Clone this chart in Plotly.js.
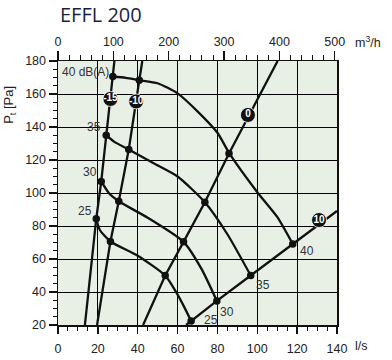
<!DOCTYPE html>
<html>
<head>
<meta charset="utf-8">
<script src="https://cdn.plot.ly/plotly-3.0.1.min.js"></script>
<style>html,body{margin:0;padding:0;background:#fff;}#chart{width:392px;height:360px;}</style>
</head>
<body>
<div id="chart"></div>
<script>
// Sound level curves (l/s, Pa)
const c25x = [19.2, 21, 26.3, 40, 53.8, 59, 63.3, 66.8];
const c25y = [84.4, 77.6, 70.6, 62, 50, 40.5, 31, 22.4];
const c30x = [21.7, 25.5, 30.5, 45, 63, 72, 79.7];
const c30y = [107, 100, 95, 85, 70.4, 54, 34.6];
const c35x = [24.2, 28.3, 35.5, 48, 60, 73.7, 85, 96.7];
const c35y = [135, 131, 126.4, 118, 110, 94.4, 75, 50];
const c40x = [27.5, 34, 40.8, 50, 60, 70, 80, 86, 100, 110, 117.8];
const c40y = [170.6, 169.8, 168.4, 166.5, 160.4, 149.5, 136.5, 124, 100.5, 85.5, 69.1];
// System / damper lines
const sM15x = [13.5, 19.2, 21.7, 24.2, 27.5, 28.3];
const sM15y = [20, 84.4, 107, 135, 170.6, 180];
const sM10x = [19.6, 26.3, 30.5, 35.5, 40.8, 42.3];
const sM10y = [20, 70.6, 95, 126.4, 168.4, 180];
const s0x = [42.7, 53.8, 63, 73.7, 85.8, 110.2];
const s0y = [20, 50, 70.4, 94.4, 124, 180];
const s10x = [64.3, 66.8, 79.7, 96.7, 117.8, 140];
const s10y = [20, 22.4, 34.6, 50, 69.1, 89.1];
// Intersection dots
const dotX = [19.2, 26.3, 53.8, 66.8, 21.7, 30.5, 63, 79.7, 24.2, 35.5, 73.7, 96.7, 27.5, 40.8, 85.8, 117.8];
const dotY = [84.4, 70.6, 50, 22.4, 107, 95, 70.4, 34.6, 135, 126.4, 94.4, 50, 170.6, 168.4, 124, 69.1];
// Line labels
const sysLabels = ['-15', '-10', '0', '10'];
const sysLabX = [26.3, 39.2, 95.3, 131];
const sysLabY = [157, 155.5, 147.3, 83.6];
// dB labels
const dbLabels = ['40 dB(A)', '35', '30', '25', '40', '35', '30', '25'];
const dbLabX = [0.8, 18, 16, 13.5, 124.8, 103, 85, 76.8];
const dbLabY = [173.3, 140.2, 112.7, 89.3, 65, 44.2, 28.1, 23];
const dbAnchor = ['left', 'center', 'center', 'center', 'center', 'center', 'center', 'center'];

const lineStyle = {color: '#111', width: 2.3, shape: 'spline', smoothing: 0.6};
const sysStyle = {color: '#111', width: 2.3};
const traces = [];
[[c25x,c25y],[c30x,c30y],[c35x,c35y],[c40x,c40y]].forEach(c => traces.push({x:c[0], y:c[1], mode:'lines', line:lineStyle, hoverinfo:'skip', showlegend:false}));
[[sM15x,sM15y],[sM10x,sM10y],[s0x,s0y],[s10x,s10y]].forEach(c => traces.push({x:c[0], y:c[1], mode:'lines', line:sysStyle, hoverinfo:'skip', showlegend:false}));
traces.push({x:dotX, y:dotY, mode:'markers', marker:{color:'#111', size:7.5}, cliponaxis:false, showlegend:false, hoverinfo:'skip'});
traces.push({x:sysLabX, y:sysLabY, mode:'markers+text', text:sysLabels, textposition:'middle center',
  textfont:{family:'Liberation Sans, Arial', size:10, color:'#fff', weight:'bold'},
  marker:{color:'#111', size:15, line:{color:'#fff', width:0.8}}, showlegend:false, hoverinfo:'skip'});
// invisible trace on top axis
traces.push({x:[0,504], y:[20,20], xaxis:'x2', mode:'markers', marker:{opacity:0}, showlegend:false, hoverinfo:'skip'});

const tickFont = {family:'Liberation Sans, Arial', size:12.5, color:'#222'};
const annotations = dbLabels.map((t,i) => ({x:dbLabX[i], y:dbLabY[i], xref:'x', yref:'y', text:t, showarrow:false,
  xanchor:dbAnchor[i], yanchor:'middle', font:{family:'Liberation Sans, Arial', size:12, color:'#333'}}));
annotations.push({xref:'paper', yref:'paper', x:0, y:1.178, xanchor:'left', yanchor:'middle', text:'EFFL 200', showarrow:false,
  font:{family:'Open Sans', size:20, color:'#1b1f3a'}});
annotations.push({xref:'paper', yref:'paper', x:1.056, y:1.072, xanchor:'left', yanchor:'middle', text:'m<sup>3</sup>/h', showarrow:false, font:tickFont});
annotations.push({xref:'paper', yref:'paper', x:1.057, y:-0.08, xanchor:'left', yanchor:'middle', text:'l/s', showarrow:false, font:tickFont});
annotations.push({xref:'paper', yref:'paper', x:-0.172, y:0.834, xanchor:'center', yanchor:'middle', textangle:-90, text:'P<sub>t</sub> [Pa]', showarrow:false,
  font:{family:'Liberation Sans, Arial', size:13, color:'#222'}});

const layout = {
  width:392, height:360, margin:{l:58, r:55, t:61, b:35},
  paper_bgcolor:'#fff', plot_bgcolor:'#e8f0e6', showlegend:false,
  xaxis:{range:[0,140], tick0:0, dtick:20, ticks:'outside', ticklen:7, tickwidth:1.3, tickcolor:'#111', ticklabelstandoff:4,
    showline:true, linecolor:'#111', linewidth:1.5, mirror:false, showgrid:true, gridcolor:'#000', gridwidth:1,
    zeroline:false, tickfont:tickFont, fixedrange:true,
    minor:{dtick:5, ticks:'outside', ticklen:4, tickwidth:1, tickcolor:'#111', showgrid:false}},
  xaxis2:{range:[0,504], overlaying:'x', side:'top', anchor:'y', tick0:0, dtick:100, ticks:'outside', ticklen:9, tickwidth:1.3,
    tickcolor:'#111', showline:true, linecolor:'#111', linewidth:1.5, showgrid:false, zeroline:false, tickfont:tickFont, fixedrange:true,
    minor:{dtick:20, ticks:'outside', ticklen:5, tickwidth:1, tickcolor:'#111', showgrid:false}},
  yaxis:{range:[20,180], tick0:0, dtick:20, ticks:'outside', ticklen:8, tickwidth:1.3, tickcolor:'#111',
    showline:true, linecolor:'#111', linewidth:1.5, mirror:true, showgrid:true, gridcolor:'#000', gridwidth:1,
    zeroline:false, tickfont:tickFont, fixedrange:true,
    minor:{dtick:5, ticks:'outside', ticklen:4, tickwidth:1, tickcolor:'#111', showgrid:false}},
  annotations:annotations
};
Plotly.newPlot('chart', traces, layout, {staticPlot:true, displayModeBar:false});
</script>
</body>
</html>
